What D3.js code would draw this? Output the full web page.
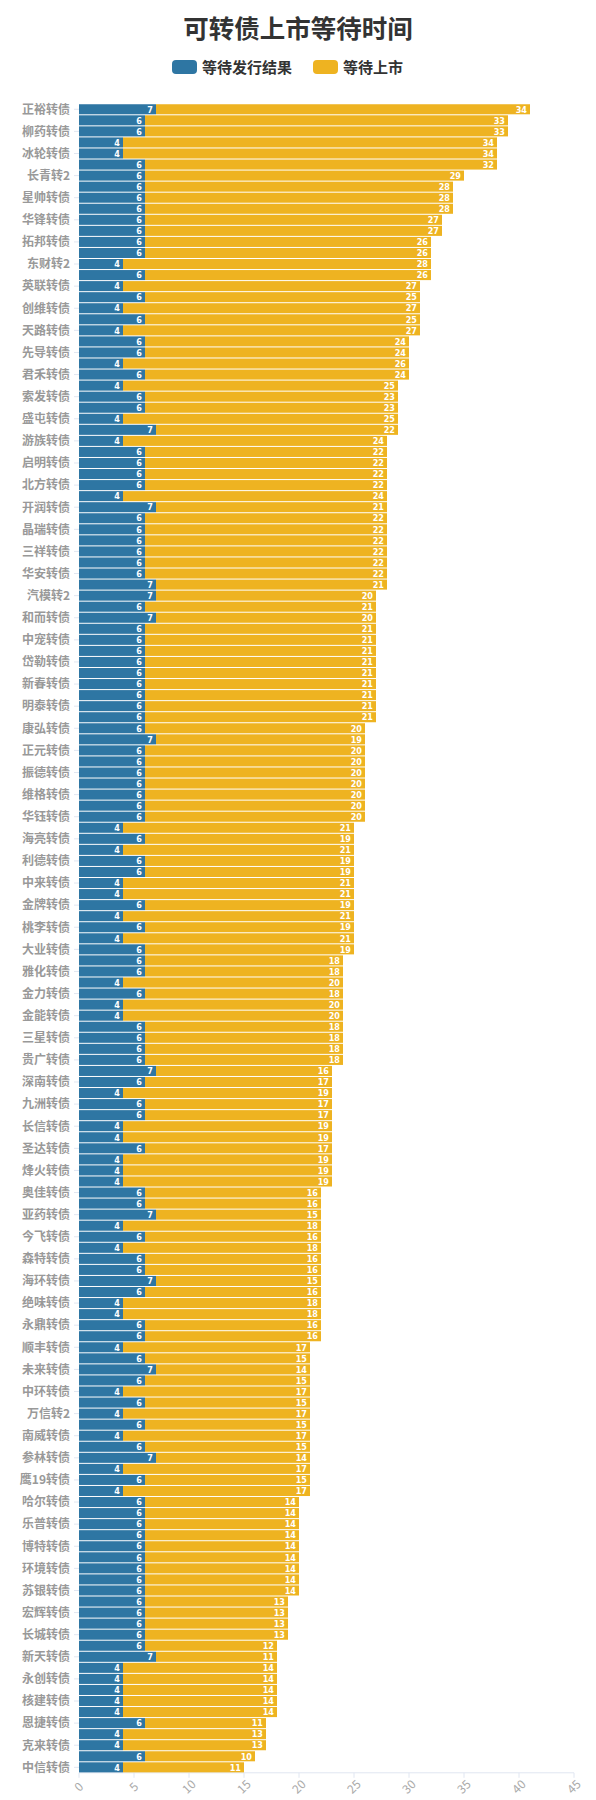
<!DOCTYPE html>
<html><head><meta charset="utf-8">
<script src="https://cdn.jsdelivr.net/npm/d3@7/dist/d3.min.js"></script>
<style>body{margin:0;background:#fff}svg{display:block}</style>
</head><body>
<svg id="c" width="596" height="1800"></svg>
<script>
// Category labels (every other label is hidden in the original; hidden ones left blank)
const categories = [
"正裕转债","","柳药转债","","冰轮转债","","长青转2","","星帅转债","","华锋转债","",
"拓邦转债","","东财转2","","英联转债","","创维转债","","天路转债","","先导转债","",
"君禾转债","","索发转债","","盛屯转债","","游族转债","","启明转债","","北方转债","",
"开润转债","","晶瑞转债","","三祥转债","","华安转债","","汽模转2","","和而转债","",
"中宠转债","","岱勒转债","","新春转债","","明泰转债","","康弘转债","","正元转债","",
"振德转债","","维格转债","","华钰转债","","海亮转债","","利德转债","","中来转债","",
"金牌转债","","桃李转债","","大业转债","","雅化转债","","金力转债","","金能转债","",
"三星转债","","贵广转债","","深南转债","","九洲转债","","长信转债","","圣达转债","",
"烽火转债","","奥佳转债","","亚药转债","","今飞转债","","森特转债","","海环转债","",
"绝味转债","","永鼎转债","","顺丰转债","","未来转债","","中环转债","","万信转2","",
"南威转债","","参林转债","","鹰19转债","","哈尔转债","","乐普转债","","博特转债","",
"环境转债","","苏银转债","","宏辉转债","","长城转债","","新天转债","","永创转债","",
"核建转债","","恩捷转债","","克来转债","","中信转债"
];
const waitResult = [
7,6,6,4,4,6,6,6,6,6,6,6,
6,6,4,6,4,6,4,6,4,6,6,4,
6,4,6,6,4,7,4,6,6,6,6,4,
7,6,6,6,6,6,6,7,7,6,7,6,
6,6,6,6,6,6,6,6,6,7,6,6,
6,6,6,6,6,4,6,4,6,6,4,4,
6,4,6,4,6,6,6,4,6,4,4,6,
6,6,6,7,6,4,6,6,4,4,6,4,
4,4,6,6,7,4,6,4,6,6,7,6,
4,4,6,6,4,6,7,6,4,6,4,6,
4,6,7,4,6,4,6,6,6,6,6,6,
6,6,6,6,6,6,6,6,7,4,4,4,
4,4,6,4,4,6,4
];
const waitListing = [
34,33,33,34,34,32,29,28,28,28,27,27,
26,26,28,26,27,25,27,25,27,24,24,26,
24,25,23,23,25,22,24,22,22,22,22,24,
21,22,22,22,22,22,22,21,20,21,20,21,
21,21,21,21,21,21,21,21,20,19,20,20,
20,20,20,20,20,21,19,21,19,19,21,21,
19,21,19,21,19,18,18,20,18,20,20,18,
18,18,18,16,17,19,17,17,19,19,17,19,
19,19,16,16,15,18,16,18,16,16,15,16,
18,18,16,16,17,15,14,15,17,15,17,15,
17,15,14,17,15,17,14,14,14,14,14,14,
14,14,14,13,13,13,13,12,11,14,14,14,
14,14,11,13,13,10,11
];
const seriesNames = ["等待发行结果","等待上市"];
const xTicks = [0,5,10,15,20,25,30,35,40,45];
const colors = ["#2e76a3","#eeb321"];

const svg = d3.select("#c");
const N = categories.length;
const x = d3.scaleLinear().domain([0,45]).range([79,574]);
const y = d3.scaleBand().domain(d3.range(N)).range([103.8,1772.8]).paddingInner(0.09).paddingOuter(0.04);

// title
svg.append("text").attr("x",298).attr("y",38).attr("text-anchor","middle")
  .attr("font-family","'Noto Sans CJK SC',sans-serif").attr("font-weight","bold")
  .attr("font-size",25.5).attr("fill","#333").text("可转债上市等待时间");

// legend
const leg = [{x:172,tx:202},{x:313,tx:343}];
seriesNames.forEach((n,i)=>{
  svg.append("rect").attr("x",leg[i].x).attr("y",60).attr("width",25).attr("height",14)
    .attr("rx",4).attr("fill",colors[i]);
  svg.append("text").attr("x",leg[i].tx).attr("y",72.5)
    .attr("font-family","'Noto Sans CJK SC',sans-serif").attr("font-weight","bold")
    .attr("font-size",15).attr("fill","#333").text(n);
});

// x axis
const xg = svg.append("g").attr("transform",`translate(0,${y.range()[1]})`);
xg.append("line").attr("x1",x(0)).attr("x2",x(45)).attr("stroke","#e0e6f1");
xTicks.forEach(t=>{
  xg.append("line").attr("x1",x(t)).attr("x2",x(t)).attr("y1",0).attr("y2",5).attr("stroke","#e0e6f1");
  xg.append("text").attr("transform",`translate(${x(t)},${14}) rotate(-45)`)
    .attr("text-anchor","middle").attr("dy","0.35em")
    .attr("font-family","'Noto Sans CJK SC',sans-serif").attr("font-size",12)
    .attr("fill","#aaa").text(t);
});

// y axis labels
const yg = svg.append("g");
categories.forEach((c,i)=>{
  if(!c) return;
  const cy = y(i)+y.bandwidth()/2;
  yg.append("line").attr("x1",74).attr("x2",x(0)).attr("y1",cy).attr("y2",cy).attr("stroke","#e0e6f1");
  yg.append("text").attr("x",70).attr("y",cy).attr("dy","0.36em").attr("text-anchor","end")
    .attr("font-family","'Noto Sans CJK SC',sans-serif").attr("font-weight","bold")
    .attr("font-size",12).attr("fill","#999").text(c);
});

// bars
const data = d3.range(N).map(i=>({i,a:waitResult[i],b:waitListing[i]}));
const g = svg.append("g");
data.forEach(d=>{
  const yy = y(d.i), h = y.bandwidth();
  g.append("rect").attr("x",x(0)).attr("y",yy).attr("width",x(d.a)-x(0)).attr("height",h).attr("fill",colors[0]);
  g.append("rect").attr("x",x(d.a)).attr("y",yy).attr("width",x(d.a+d.b)-x(d.a)).attr("height",h).attr("fill",colors[1]);
  [[d.a,d.a],[d.b,d.a+d.b]].forEach(([v,end])=>{
    g.append("text").attr("x",x(end)-3).attr("y",yy+h/2).attr("dy","0.36em").attr("text-anchor","end")
      .attr("font-family","'DejaVu Sans Condensed','DejaVu Sans',sans-serif").attr("font-weight","bold")
      .attr("font-size",9).attr("fill","#fff").text(v);
  });
});
</script>
</body></html>
